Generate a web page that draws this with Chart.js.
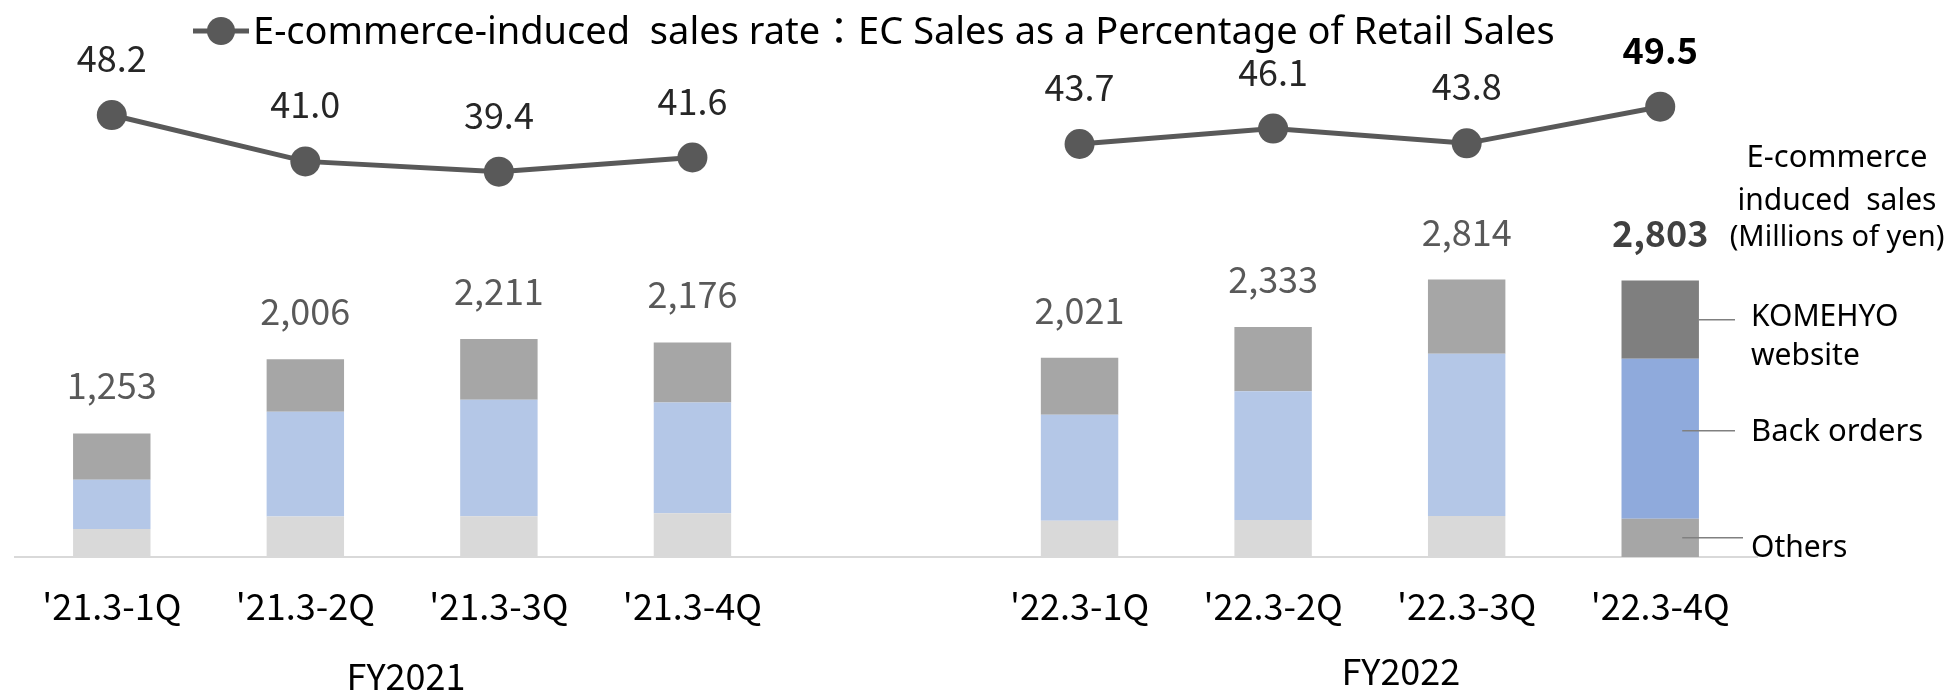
<!DOCTYPE html>
<html>
<head>
<meta charset="utf-8">
<script src="https://cdn.jsdelivr.net/npm/chart.js@4.4.1/dist/chart.umd.min.js"></script>
<style>
  html, body { margin: 0; padding: 0; background: #fff; }
  #wrap { width: 1949px; height: 690px; }
</style>
</head>
<body>
<div id="wrap"><canvas id="ecChart" width="1949" height="690"></canvas></div>
<script>
// 분기 라벨 (가운데 빈 칸은 FY 사이 간격)
const categories = ["'21.3-1Q", "'21.3-2Q", "'21.3-3Q", "'21.3-4Q", "", "'22.3-1Q", "'22.3-2Q", "'22.3-3Q", "'22.3-4Q"];
const fiscalYears = ['FY2021', 'FY2022'];
// EC 관련 매출 (백만엔)
const others      = [285, 412, 413, 444, null, 368, 375, 416, 388];
const backOrders  = [498, 1060, 1182, 1124, null, 1074, 1306, 1646, 1623];
const komehyoSite = [470, 534, 616, 608, null, 579, 652, 752, 792];
const totals      = [1253, 2006, 2211, 2176, null, 2021, 2333, 2814, 2803];
// EC 관련 매출 비율 (%)
const ecRate = [48.2, 41.0, 39.4, 41.6, null, 43.7, 46.1, 43.8, 49.5];
const seriesNames = ['Others', 'Back orders', 'KOMEHYO website'];
const rateLabel = 'E-commerce-induced  sales rate：EC Sales as a Percentage of Retail Sales';

const FONT = '"Noto Sans CJK JP", "Noto Sans", sans-serif';
const LATIN = '"Noto Sans", "Noto Sans CJK JP", sans-serif';
const LAST = categories.length - 1;

// 마지막 막대만 진한 색
const colorsFor = (normal, last) => categories.map((c, i) => i === LAST ? last : normal);

const labelsPlugin = {
    id: 'labels',
    afterDraw(chart) {
        const ctx = chart.ctx;
        const area = chart.chartArea;
        const lineMeta = chart.getDatasetMeta(0);
        const topMeta = chart.getDatasetMeta(3);
        ctx.save();
        ctx.textAlign = 'center';
        ctx.textBaseline = 'alphabetic';

        // 막대 합계
        topMeta.data.forEach((el, i) => {
            if (totals[i] == null) return;
            const bold = i === LAST;
            ctx.font = `${bold ? 'bold ' : ''}36px ${FONT}`;
            ctx.fillStyle = bold ? '#404040' : '#595959';
            ctx.fillText(totals[i].toLocaleString('en-US'), el.x, el.y - 34);
        });

        // 비율 라벨
        lineMeta.data.forEach((el, i) => {
            if (ecRate[i] == null) return;
            const bold = i === LAST;
            ctx.font = `${bold ? 'bold ' : ''}36px ${FONT}`;
            ctx.fillStyle = bold ? '#000000' : '#262626';
            ctx.fillText(ecRate[i].toFixed(1), el.x, el.y - 43);
        });

        // FY 그룹 라벨
        const xs = chart.scales.x;
        ctx.font = `36px ${FONT}`;
        ctx.fillStyle = '#000000';
        ctx.fillText(fiscalYears[0], xs.getPixelForValue(1.52), 690);
        ctx.fillText(fiscalYears[1], xs.getPixelForValue(6.66), 685);

        // 범례
        ctx.strokeStyle = '#595959';
        ctx.lineWidth = 5;
        ctx.beginPath();
        ctx.moveTo(193, 31);
        ctx.lineTo(249, 31);
        ctx.stroke();
        ctx.fillStyle = '#595959';
        ctx.beginPath();
        ctx.arc(221, 31, 14, 0, Math.PI * 2);
        ctx.fill();
        ctx.textAlign = 'left';
        ctx.fillStyle = '#000000';
        ctx.font = `38px ${LATIN}`;
        ctx.fillText(rateLabel, 253, 44);

        // 오른쪽 단위 표시
        ctx.textAlign = 'center';
        ctx.font = `31px ${LATIN}`;
        ctx.fillText('E-commerce', area.right + 80, 167);
        ctx.font = `30px ${LATIN}`;
        ctx.fillText('induced  sales', area.right + 80, 210);
        ctx.font = `29px ${LATIN}`;
        ctx.fillText('(Millions of yen)', area.right + 80, 246);

        // 마지막 막대의 계열 이름 + 지시선
        const tx = area.right - 6;
        ctx.textAlign = 'left';
        ctx.font = `30px ${LATIN}`;
        ctx.strokeStyle = '#808080';
        ctx.lineWidth = 1.5;
        const segs = [1, 2, 3].map(d => chart.getDatasetMeta(d).data[LAST]);
        const leader = (x0, x1, y) => {
            ctx.beginPath();
            ctx.moveTo(x0, y);
            ctx.lineTo(x1, y);
            ctx.stroke();
        };
        // Others
        let el = segs[0], mid = (el.y + el.base) / 2;
        leader(el.x + 22, tx - 8, mid);
        ctx.fillText(seriesNames[0], tx, mid + 19);
        // Back orders
        el = segs[1]; mid = (el.y + el.base) / 2;
        leader(el.x + 22, tx - 16, mid - 8);
        ctx.font = `31px ${LATIN}`;
        ctx.fillText(seriesNames[1], tx, mid + 2);
        // KOMEHYO website
        el = segs[2]; mid = (el.y + el.base) / 2;
        leader(el.x + el.width / 2, tx - 16, mid);
        ctx.font = `30px ${LATIN}`;
        const parts = seriesNames[2].split(' ');
        ctx.fillText(parts[0], tx, mid + 6);
        ctx.fillText(parts[1], tx, mid + 45);
        ctx.restore();
    }
};

new Chart(document.getElementById('ecChart'), {
    data: {
        labels: categories,
        datasets: [{
            type: 'line',
            label: rateLabel,
            data: ecRate,
            yAxisID: 'y2',
            borderColor: '#595959',
            borderWidth: 5,
            pointRadius: 15,
            pointBackgroundColor: '#595959',
            pointBorderWidth: 0,
            spanGaps: false,
            clip: false,
            order: 0
        },
        {
            type: 'bar',
            label: seriesNames[0],
            data: others,
            backgroundColor: colorsFor('#d9d9d9', '#a6a6a6'),
            order: 1
        },
        {
            type: 'bar',
            label: seriesNames[1],
            data: backOrders,
            backgroundColor: colorsFor('#b4c7e7', '#8faadc'),
            order: 1
        },
        {
            type: 'bar',
            label: seriesNames[2],
            data: komehyoSite,
            backgroundColor: colorsFor('#a6a6a6', '#7f7f7f'),
            order: 1
        }]
    },
    options: {
        responsive: false,
        animation: false,
        layout: { padding: { top: 64, left: 11, right: 192, bottom: 0 } },
        datasets: { bar: { categoryPercentage: 1, barPercentage: 0.4, borderWidth: 0 } },
        scales: {
            x: {
                stacked: true,
                grid: { display: false, drawTicks: false },
                border: { display: true, color: '#d9d9d9', width: 2 },
                ticks: {
                    autoSkip: false,
                    maxRotation: 0,
                    padding: 31,
                    color: '#000000',
                    font: { family: FONT, size: 36, lineHeight: 1 }
                },
                afterFit: s => { s.height = 133; }
            },
            y: { display: false, stacked: true, min: 0, max: 5000 },
            y2: { display: false, min: -20.47, max: 56.13 }
        },
        plugins: {
            legend: { display: false },  // 범례는 직접 그림
            tooltip: { enabled: false }
        }
    },
    plugins: [labelsPlugin]
});
</script>
</body>
</html>
